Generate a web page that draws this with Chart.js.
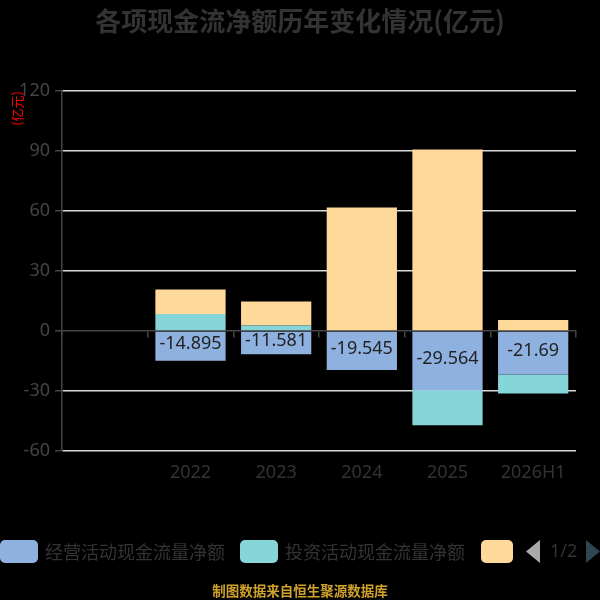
<!DOCTYPE html>
<html>
<head>
<meta charset="utf-8">
<script src="https://cdn.jsdelivr.net/npm/chart.js@4.4.1/dist/chart.umd.min.js"></script>
<style>
  html, body { margin: 0; padding: 0; background: #000; }
  #wrap { width: 600px; height: 600px; }
</style>
</head>
<body>
<div id="wrap"><canvas id="cashChart" width="600" height="600"></canvas></div>
<script>
const categories = ['', '2022', '2023', '2024', '2025', '2026H1'];
const operatingFlow = [null, -14.895, -11.581, -19.545, -29.564, -21.69];
const investingFlow = [null, 8.5, 2.7, 0, -17.5, -9.5];
const financingFlow = [null, 12.3, 12.0, 61.7, 90.8, 5.5];
const seriesNames = ['经营活动现金流量净额', '投资活动现金流量净额', '筹资活动现金流量净额'];
const seriesColors = ['#8eb1e0', '#86d5d8', '#ffd99a'];
const yTicks = [-60, -30, 0, 30, 60, 90, 120];

const FONT = '"Noto Sans", "Noto Sans CJK SC", sans-serif';

// labels inside the operating bars
const valueLabels = {
    id: 'valueLabels',
    afterDatasetsDraw(chart) {
        const ctx = chart.ctx;
        const meta = chart.getDatasetMeta(0);
        ctx.save();
        ctx.font = '18px ' + FONT;
        ctx.fillStyle = '#222';
        ctx.textAlign = 'center';
        ctx.textBaseline = 'middle';
        meta.data.forEach((bar, i) => {
            const v = operatingFlow[i];
            if (v === null) return;
            ctx.fillText(String(v), bar.x, (bar.y + bar.base) / 2 - 2);
        });
        ctx.restore();
    }
};

// title, paged legend, footer note
const decorations = {
    id: 'decorations',
    afterDraw(chart) {
        const ctx = chart.ctx;
        ctx.save();
        ctx.textBaseline = 'middle';

        ctx.textAlign = 'center';
        ctx.fillStyle = '#333';
        ctx.font = 'bold 26px "Noto Sans CJK SC", sans-serif';
        ctx.fillText('各项现金流净额历年变化情况(亿元)', 300, 21);

        // legend page 1 of 2
        const boxes = [[0, 38], [240, 38], [481, 32]];
        ctx.textAlign = 'left';
        ctx.font = '18px "Noto Sans CJK SC", sans-serif';
        boxes.forEach((b, i) => {
            ctx.fillStyle = seriesColors[i];
            ctx.beginPath();
            ctx.roundRect(b[0], 540, b[1], 23, 5);
            ctx.fill();
            if (i < 2) {
                ctx.fillStyle = '#333';
                ctx.fillText(seriesNames[i], b[0] + b[1] + 7, 552);
            }
        });
        ctx.fillStyle = '#aaa';
        ctx.beginPath();
        ctx.moveTo(540, 540); ctx.lineTo(526, 551.5); ctx.lineTo(540, 563); ctx.closePath();
        ctx.fill();
        ctx.fillStyle = '#333';
        ctx.font = '18px ' + FONT;
        ctx.fillText('1/2', 550, 552);
        ctx.fillStyle = '#2f4554';
        ctx.beginPath();
        ctx.moveTo(586, 540); ctx.lineTo(600, 551.5); ctx.lineTo(586, 563); ctx.closePath();
        ctx.fill();

        ctx.textAlign = 'center';
        ctx.fillStyle = '#d0a22c';
        ctx.font = 'bold 13.5px "Noto Sans CJK SC", sans-serif';
        ctx.fillText('制图数据来自恒生聚源数据库', 300, 591);
        ctx.restore();
    }
};

new Chart(document.getElementById('cashChart'), {
    type: 'bar',
    data: {
        labels: categories,
        datasets: [
            { label: seriesNames[0], data: operatingFlow, backgroundColor: seriesColors[0] },
            { label: seriesNames[1], data: investingFlow, backgroundColor: seriesColors[1] },
            { label: seriesNames[2], data: financingFlow, backgroundColor: seriesColors[2] }
        ]
    },
    options: {
        responsive: false,
        animation: false,
        barPercentage: 0.82,
        categoryPercentage: 1,
        layout: { padding: { top: 91, right: 24, left: 0, bottom: 0 } },
        plugins: {
            legend: { display: false },
            title: { display: false },
            tooltip: { enabled: false }
        },
        scales: {
            x: {
                stacked: true,
                grid: { display: false },
                border: { display: false },
                ticks: { color: '#333', font: { family: FONT, size: 18 }, padding: 3 },
                afterFit: s => { s.height = 149; }
            },
            x2: {
                type: 'category',
                labels: categories,
                position: { y: 0 },
                offset: true,
                grid: { offset: true, drawOnChartArea: false, tickLength: 6, color: '#444', lineWidth: 1.5 },
                border: { color: '#444', width: 1.5 },
                ticks: { display: false }
            },
            y: {
                stacked: true,
                min: yTicks[0],
                max: yTicks[yTicks.length - 1],
                afterBuildTicks: s => { s.ticks = yTicks.map(v => ({ value: v })); },
                afterFit: s => { s.width = 62; },
                grid: {
                    color: c => (c.tick && c.tick.value === 0) ? 'rgba(0,0,0,0)' : '#d9d9d9',
                    lineWidth: 1.5,
                    tickColor: '#444',
                    tickLength: 7
                },
                border: { color: '#444', width: 1.5 },
                ticks: { color: '#444', font: { family: FONT, size: 18 }, padding: 5 },
                title: {
                    display: true,
                    text: '(亿元)',
                    color: 'red',
                    align: 'end',
                    font: { family: '"Noto Sans CJK SC", sans-serif', size: 13 },
                    padding: { top: 9, bottom: 0 }
                }
            }
        }
    },
    plugins: [valueLabels, decorations]
});
</script>
</body>
</html>
